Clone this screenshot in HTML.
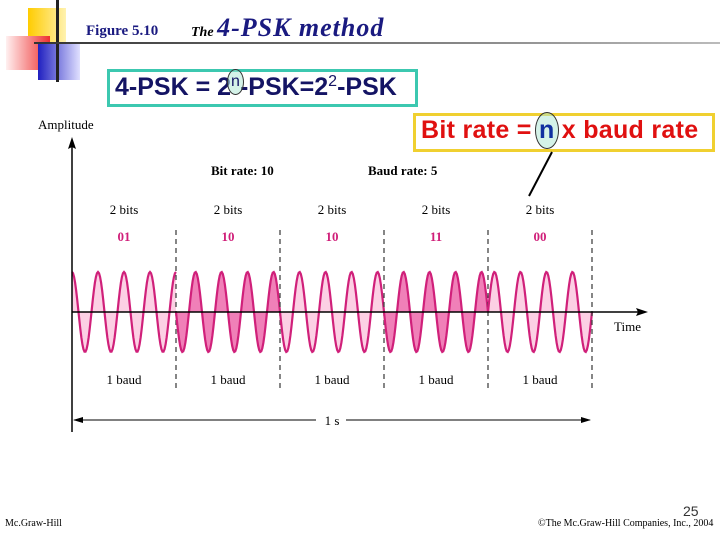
<!DOCTYPE html>
<html><head><meta charset="utf-8"><style>
body{margin:0;width:720px;height:540px;background:#fff;overflow:hidden;position:relative;font-family:"Liberation Serif",serif}
.a{position:absolute;white-space:nowrap}
.hl{position:relative;display:inline-block}
.hl::after{content:"";position:absolute;left:-4px;right:-4px;top:-4px;bottom:-4px;border-radius:50%;border:1px solid #333;background:rgba(170,230,210,.5)}
</style></head><body>
<div class="a" style="left:28px;top:8px;width:38px;height:36px;background:linear-gradient(90deg,#ffcc00,#fff2b0)"></div>
<div class="a" style="left:6px;top:36px;width:44px;height:34px;background:linear-gradient(90deg,#fff0f0,#ee3030)"></div>
<div class="a" style="left:38px;top:44px;width:42px;height:36px;background:linear-gradient(90deg,#2020c0,#e0e0ff)"></div>
<div class="a" style="left:56px;top:0;width:3px;height:82px;background:#222"></div>
<div class="a" style="left:34px;top:42px;width:686px;height:2px;background:linear-gradient(90deg,#333,#bbb)"></div>
<div class="a" style="left:86px;top:23px;font-size:15px;font-weight:bold;color:#1a1a80">Figure 5.10</div>
<div class="a" style="left:191px;top:13px;font-size:26px;font-style:italic;font-weight:bold;color:#1a1a80;letter-spacing:1px"><span style="font-size:14px;color:#000;letter-spacing:0">The </span>4-PSK method</div>
<div class="a" style="left:107px;top:69px;width:311px;height:38px;border:3px solid #3cc8b0;box-sizing:border-box"></div>
<div class="a" style="left:115px;top:73px;font-family:'Liberation Sans',sans-serif;font-size:25px;font-weight:bold;color:#141464">4-PSK = 2<span class="hl" style="font-weight:normal;font-size:16px;vertical-align:9px"><span style="position:relative;z-index:1">n</span></span>-PSK=2<span style="font-weight:normal;font-size:16px;vertical-align:9px">2</span>-PSK</div>
<div class="a" style="left:413px;top:113px;width:302px;height:39px;border:3px solid #f0d030;box-sizing:border-box"></div>
<div class="a" style="left:421px;top:116px;font-family:'Liberation Sans',sans-serif;font-size:25px;font-weight:bold;color:#e01010;letter-spacing:0.3px">Bit rate = <span class="hl" style="color:#1030a0"><span style="position:relative;z-index:1">n</span></span> x baud rate</div>
<svg class="a" style="left:0;top:0" width="720" height="540" id="svg"></svg>
<div class="a" style="left:5px;top:518px;font-size:10px">Mc.Graw-Hill</div>
<div class="a" style="left:538px;top:518px;font-size:10px">©The Mc.Graw-Hill Companies, Inc., 2004</div>
<div class="a" style="left:683px;top:503px;font-family:'Liberation Sans',sans-serif;font-size:14px;color:#333">25</div>
<script>
const bits=["01","10","10","11","00"];
const phases=[90,180,180,180,0];
const dark=[false,true,false,true,false];
const cyclesPerBaud=4;
const NS="http://www.w3.org/2000/svg",svg=document.getElementById('svg');
function mk(t,a,txt){const e=document.createElementNS(NS,t);for(const k in a)e.setAttribute(k,a[k]);if(txt!==undefined)e.textContent=txt;svg.appendChild(e);return e;}
const x0=72,x1=592,y0=312,amp=40,bw=(x1-x0)/bits.length;
const X=t=>x0+t*bw, Y=v=>y0-v*amp;
bits.forEach((b,i)=>{
  let d="M"+X(i)+","+y0;let line="";
  for(let k=0;k<=100;k++){const t=i+k/100;const v=Math.sin(2*Math.PI*cyclesPerBaud*k/100+phases[i]*Math.PI/180);
    const p=X(t).toFixed(2)+","+Y(v).toFixed(2);d+=" L"+p;line+=(k?" L":"M")+p;}
  d+=" L"+X(i+1)+","+y0+"Z";
  let e=mk('path',{d:d,fill:dark[i]?'#f080b8':'#fcd0e4'});
  
  e=mk('path',{d:line,fill:'none',stroke:'#d0207a','stroke-width':2.2});
  
  const cx=X(i+0.5);
  e=mk('text',{x:cx,y:214,'text-anchor':'middle','font-size':13,'font-family':'Liberation Serif'},'2 bits');
  
  e=mk('text',{x:cx,y:241,'text-anchor':'middle','font-size':13,'font-weight':'bold',fill:'#d0207a','font-family':'Liberation Serif'},b);
  
  e=mk('text',{x:cx,y:384,'text-anchor':'middle','font-size':13,'font-family':'Liberation Serif'},'1 baud');
  
  e=mk('line',{x1:X(i+1),y1:230,x2:X(i+1),y2:392,stroke:'#444','stroke-width':1.3,'stroke-dasharray':'5,4'});
  
});
let e=mk('line',{x1:x0,y1:y0,x2:640,y2:y0,stroke:'#000','stroke-width':1.5});

e=mk('path',{d:"M648,312 L636,308 L638,312 L636,316Z",fill:'#000'});

e=mk('line',{x1:x0,y1:146,x2:x0,y2:432,stroke:'#000','stroke-width':1.5});

e=mk('path',{d:"M72,137 L68,149 L72,147 L76,149Z",fill:'#000'});

e=mk('text',{x:38,y:129,'font-size':13,'font-family':'Liberation Serif'},'Amplitude');

e=mk('text',{x:614,y:331,'font-size':13,'font-family':'Liberation Serif'},'Time');

e=mk('text',{x:211,y:175,'font-size':13,'font-weight':'bold','font-family':'Liberation Serif'},'Bit rate: 10');

e=mk('text',{x:368,y:175,'font-size':13,'font-weight':'bold','font-family':'Liberation Serif'},'Baud rate: 5');

e=mk('line',{x1:x0+2,y1:420,x2:316,y2:420,stroke:'#000'});

e=mk('line',{x1:346,y1:420,x2:x1-2,y2:420,stroke:'#000'});

e=mk('path',{d:"M73,420 L83,417 L83,423Z M591,420 L581,417 L581,423Z",fill:'#000'});

e=mk('text',{x:332,y:425,'text-anchor':'middle','font-size':13,'font-family':'Liberation Serif'},'1 s');

e=mk('line',{x1:552,y1:152,x2:529,y2:196,stroke:'#000','stroke-width':2});

</script>
</body></html>
